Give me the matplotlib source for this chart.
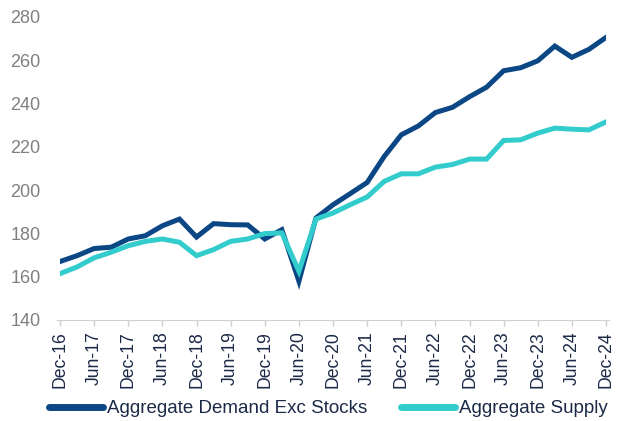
import matplotlib
matplotlib.use('Agg')
import matplotlib.pyplot as plt

# quarterly, Dec-16 .. Dec-24
quarters = ['Dec-16', 'Mar-17', 'Jun-17', 'Sep-17', 'Dec-17', 'Mar-18', 'Jun-18', 'Sep-18',
            'Dec-18', 'Mar-19', 'Jun-19', 'Sep-19', 'Dec-19', 'Mar-20', 'Jun-20', 'Sep-20',
            'Dec-20', 'Mar-21', 'Jun-21', 'Sep-21', 'Dec-21', 'Mar-22', 'Jun-22', 'Sep-22',
            'Dec-22', 'Mar-23', 'Jun-23', 'Sep-23', 'Dec-23', 'Mar-24', 'Jun-24', 'Sep-24',
            'Dec-24']

demand = [167.0, 169.7, 173.0, 173.6, 177.4, 178.9, 183.5, 186.6,
          178.3, 184.5, 184.0, 183.9, 177.4, 181.7, 157.9, 187.1,
          193.2, 198.3, 203.5, 215.5, 225.5, 229.6, 235.8, 238.2,
          243.1, 247.5, 255.1, 256.5, 259.7, 266.5, 261.3, 265.0,
          270.5]

supply = [161.4, 164.5, 168.7, 171.3, 174.3, 176.3, 177.4, 175.9,
          169.7, 172.5, 176.3, 177.4, 179.9, 180.2, 162.5, 186.6,
          189.4, 193.2, 196.8, 204.0, 207.5, 207.5, 210.6, 211.8,
          214.3, 214.3, 222.9, 223.2, 226.3, 228.6, 228.1, 227.8,
          231.5]

dark = '#0b4685'
cyan = '#33cccc'
txt = '#1c2a48'

fig = plt.figure(figsize=(6.24, 4.21), dpi=100)
ax = fig.add_axes([0.0962, 0.240, 0.875, 0.720])

x = list(range(len(quarters)))
ax.plot(x, demand, color=dark, lw=3.6, label='Aggregate Demand Exc Stocks', solid_joinstyle='miter')
ax.plot(x, supply, color=cyan, lw=3.6, label='Aggregate Supply', solid_joinstyle='miter')

ax.set_xlim(0, len(quarters) - 1)
ax.set_ylim(140, 280)
ax.set_yticks(range(140, 281, 20))
ax.set_xticks(x[::2])
ax.set_xticklabels(quarters[::2], rotation=90, fontsize=12.7, color=txt, family='Liberation Sans')
for lbl in ax.get_yticklabels():
    lbl.set_family('Liberation Sans')
ax.tick_params(axis='y', length=0, labelsize=13, labelcolor='#808080', pad=14)
ax.tick_params(axis='x', length=4, color='#d0d0d0', width=1, pad=4)

for s in ['top', 'right', 'left']:
    ax.spines[s].set_visible(False)
ax.spines['bottom'].set_color('#d0d0d0')
ax.spines['bottom'].set_bounds(-0.2, len(quarters) - 0.8)

leg = fig.legend(loc='center', bbox_to_anchor=(0.526, 0.029), ncol=2, frameon=False,
                 prop={'family': 'Liberation Sans', 'size': 13.5}, handlelength=2.9,
                 handletextpad=0.2, columnspacing=1.77, borderpad=0)
for t in leg.get_texts():
    t.set_color(txt)
for h in leg.get_lines():
    h.set_linewidth(5)
    h.set_solid_capstyle('round')

fig.savefig('out.png', dpi=100)
